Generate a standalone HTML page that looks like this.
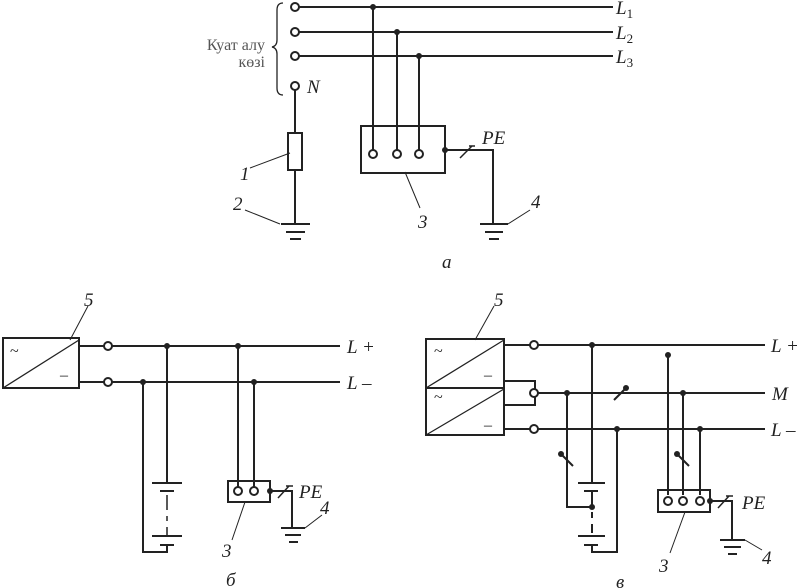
<!DOCTYPE html>
<html><head><meta charset="utf-8"><style>
html,body{margin:0;padding:0;background:#fff;}
svg{display:block;}
text{font-family:"Liberation Serif",serif;font-style:italic;fill:#222;}
</style></head><body>
<svg width="800" height="588" viewBox="0 0 800 588" xmlns="http://www.w3.org/2000/svg">
<g stroke="#222" stroke-width="2" fill="none">
<path d="M299 7H613M299 32H613M299 56H613"/>
<circle cx="295" cy="7" r="4" fill="#fff"/>
<circle cx="295" cy="32" r="4" fill="#fff"/>
<circle cx="295" cy="56" r="4" fill="#fff"/>
<circle cx="295" cy="86" r="4" fill="#fff"/>
<path d="M283 3Q277 3 277 10V40Q277 46 272 47Q277 48 277 54V88Q277 95 283 95" stroke-width="1.3"/>
<path d="M295 90V133M295 170V224"/>
<rect x="288" y="133" width="14" height="37"/>
<path d="M281 224H310M286 232H305M290 239H301"/>
<path d="M373 7V150M397 32V150M419 56V150"/>
<rect x="361" y="126" width="84" height="47"/>
<circle cx="373" cy="154" r="4" fill="#fff"/>
<circle cx="397" cy="154" r="4" fill="#fff"/>
<circle cx="419" cy="154" r="4" fill="#fff"/>
<path d="M445 150H493V224"/>
<path d="M460 158L472 146M469 146H475" stroke-width="1.5"/>
<path d="M480 224H508M485 232H503M489 239H499"/>
<path d="M250 168L290 153M245 210L280 224M405 172L420 208M508 224L530 210" stroke-width="1"/>
<rect x="3" y="338" width="76" height="50"/>
<path d="M3 388L79 340" stroke-width="1.3"/>
<path d="M79 346H104M112 346H340M79 382H104M112 382H340"/>
<circle cx="108" cy="346" r="4" fill="#fff"/>
<circle cx="108" cy="382" r="4" fill="#fff"/>
<path d="M70 340L88 306" stroke-width="1"/>
<path d="M167 346V483M152 483H182M160 491H174"/>
<path d="M167 495V510M167 516V521M167 527V536" stroke-width="1.5"/>
<path d="M152 536H182M160 545H174M143 382V552H167V545"/>
<path d="M238 346V487M254 382V487"/>
<rect x="228" y="481" width="42" height="21"/>
<circle cx="238" cy="491" r="4" fill="#fff"/>
<circle cx="254" cy="491" r="4" fill="#fff"/>
<path d="M270 491H292V528"/>
<path d="M278 498L289 486M286 486H293" stroke-width="1.5"/>
<path d="M281 528H305M285 535H301M289 542H298"/>
<path d="M305 528L322 515M245 502L232 540" stroke-width="1"/>
<rect x="426" y="339" width="78" height="49"/>
<rect x="426" y="388" width="78" height="47"/>
<path d="M426 388L504 340M426 435L504 389" stroke-width="1.3"/>
<path d="M504 345H530M538 345H765M504 381H535V389M535 397V405H504M538 393H765M504 429H530M538 429H765"/>
<circle cx="534" cy="345" r="4" fill="#fff"/>
<circle cx="534" cy="393" r="4" fill="#fff"/>
<circle cx="534" cy="429" r="4" fill="#fff"/>
<path d="M475 340L494 306" stroke-width="1"/>
<path d="M614 400L626 388"/>
<path d="M567 393V507H592M561 454L573 466"/>
<path d="M592 345V483M578 483H605M584 491H598M592 491V507M592 512V518M592 524V533M578 536H605M584 545H598M617 429V552H592V545"/>
<path d="M668 355V495M683 393V495M700 429V495M677 454L689 466"/>
<rect x="658" y="490" width="52" height="22"/>
<circle cx="668" cy="501" r="4" fill="#fff"/>
<circle cx="683" cy="501" r="4" fill="#fff"/>
<circle cx="700" cy="501" r="4" fill="#fff"/>
<path d="M710 501H732V540"/>
<path d="M718 508L729 496M726 496H733" stroke-width="1.5"/>
<path d="M720 540H745M724 547H741M728 554H737"/>
<path d="M685 512L670 553M745 540L762 550" stroke-width="1"/>
</g>
<g fill="#222">
<circle cx="373" cy="7" r="3"/><circle cx="397" cy="32" r="3"/><circle cx="419" cy="56" r="3"/><circle cx="445" cy="150" r="3"/>
<circle cx="167" cy="346" r="3"/><circle cx="143" cy="382" r="3"/><circle cx="238" cy="346" r="3"/><circle cx="254" cy="382" r="3"/><circle cx="270" cy="491" r="3"/>
<circle cx="592" cy="345" r="3"/><circle cx="567" cy="393" r="3"/><circle cx="617" cy="429" r="3"/><circle cx="626" cy="388" r="3"/><circle cx="561" cy="454" r="3"/><circle cx="592" cy="507" r="3"/>
<circle cx="668" cy="355" r="3"/><circle cx="683" cy="393" r="3"/><circle cx="700" cy="429" r="3"/><circle cx="677" cy="454" r="3"/><circle cx="710" cy="501" r="3"/>
</g>
<g font-size="19">
<text x="616" y="14">L<tspan font-size="13" dy="4" font-style="normal">1</tspan></text>
<text x="616" y="39">L<tspan font-size="13" dy="4" font-style="normal">2</tspan></text>
<text x="616" y="63">L<tspan font-size="13" dy="4" font-style="normal">3</tspan></text>
<text x="307" y="93">N</text>
<text x="482" y="144">PE</text>
<text x="240" y="180">1</text>
<text x="233" y="210">2</text>
<text x="418" y="228">3</text>
<text x="531" y="208">4</text>
<text x="442" y="268">a</text>
<text x="84" y="306">5</text>
<text x="347" y="353">L +</text>
<text x="347" y="389">L –</text>
<text x="299" y="498">PE</text>
<text x="320" y="514">4</text>
<text x="222" y="557">3</text>
<text x="226" y="586">б</text>
<text x="494" y="306">5</text>
<text x="771" y="352">L +</text>
<text x="772" y="400">M</text>
<text x="771" y="436">L –</text>
<text x="742" y="509">PE</text>
<text x="659" y="572">3</text>
<text x="762" y="564">4</text>
<text x="616" y="588">в</text>
</g>
<g font-size="16">
<text x="265" y="50" text-anchor="end" style="font-style:normal;fill:#555">Куат алу</text>
<text x="265" y="67" text-anchor="end" style="font-style:normal;fill:#555">көзі</text>
<text x="10" y="356" style="font-style:normal">~</text>
<text x="60" y="380" style="font-style:normal">–</text>
<text x="434" y="356" style="font-style:normal">~</text>
<text x="484" y="380" style="font-style:normal">–</text>
<text x="434" y="402" style="font-style:normal">~</text>
<text x="484" y="430" style="font-style:normal">–</text>
</g>
</svg>
</body></html>
